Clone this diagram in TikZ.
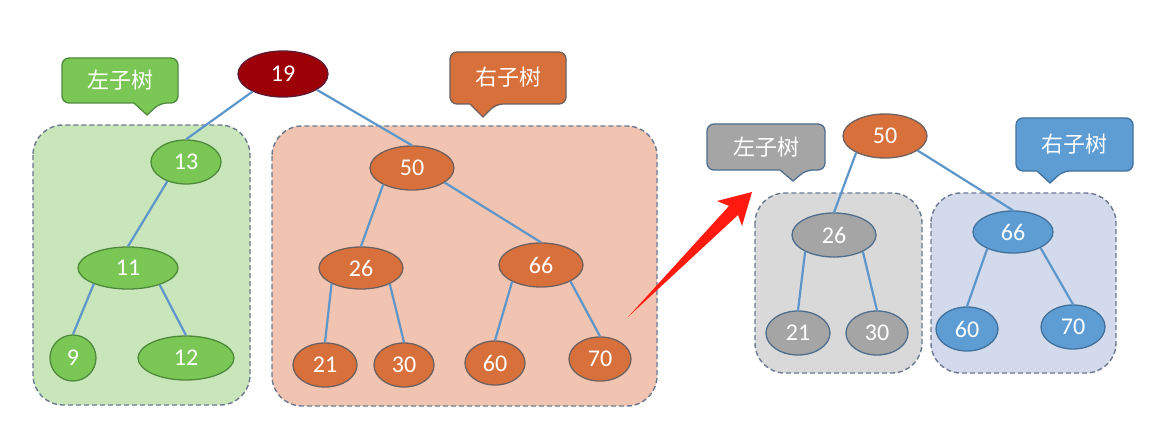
\documentclass[tikz,border=0pt]{standalone}
\usepackage{fontspec}
\setmainfont{Carlito}
\newfontfamily\cjk{Noto Sans CJK SC}
\usetikzlibrary{shapes.geometric}
\definecolor{edgec}{HTML}{5D96CA}
\definecolor{boxline}{HTML}{6A7890}
\definecolor{gfill}{HTML}{7AC755}
\definecolor{gline}{HTML}{4F8A3C}
\definecolor{ofill}{HTML}{D8703B}
\definecolor{oline}{HTML}{6F6060}
\definecolor{rfill}{HTML}{9C0006}
\definecolor{rline}{HTML}{5E1A35}
\definecolor{yfill}{HTML}{A5A5A5}
\definecolor{yline}{HTML}{4F6E8E}
\definecolor{bfill}{HTML}{5E9DD3}
\definecolor{bline}{HTML}{41719C}
\definecolor{gbox}{HTML}{C9E6BA}
\definecolor{obox}{HTML}{F0C4B0}
\definecolor{ybox}{HTML}{D9D9D9}
\definecolor{bbox}{HTML}{D2DAEC}
\definecolor{arrowred}{HTML}{FF1A10}
\tikzset{
  tnode/.style={ellipse, draw, line width=1.3pt, inner sep=0pt, text=white, font=\fontsize{24}{26}\selectfont, minimum height=44pt},
  gn/.style={tnode, fill=gfill, draw=gline},
  on/.style={tnode, fill=ofill, draw=oline},
  rn/.style={tnode, fill=rfill, draw=rline},
  yn/.style={tnode, fill=yfill, draw=yline},
  bn/.style={tnode, fill=bfill, draw=bline},
  tedge/.style={draw=edgec, line width=2.2pt},
  subbox/.style={draw=boxline, line width=1.4pt, dash pattern=on 5pt off 3pt, rounded corners=30pt},
  calltext/.style={text=white, font=\cjk\fontsize{22}{24}\selectfont, inner sep=0pt},
  callbox/.style={line width=1.3pt}
}
\begin{document}
\begin{tikzpicture}[x=1pt,y=-1pt]
\useasboundingbox (0,0) rectangle (1162,425);
% boxes
\draw[subbox, fill=gbox] (33,125) rectangle (250,405);
\draw[subbox, fill=obox] (272,126) rectangle (657,406);
\draw[subbox, fill=ybox] (755,193) rectangle (922,373);
\draw[subbox, fill=bbox] (931,193) rectangle (1116,373);

% callouts
\draw[callbox, fill=gfill, draw=gline, rounded corners=7pt] (62,58) -- (178,58) -- (178,103) -- (160,103) [sharp corners] -- (147,115) -- (134,103) [rounded corners=7pt] -- (62,103) -- cycle;
\node[calltext] (lt1) at (120,80) {左子树};
\draw[callbox, fill=ofill, draw=oline, rounded corners=7pt] (450,52) -- (566,52) -- (566,104) -- (496,104) [sharp corners] -- (483,117) -- (470,104) [rounded corners=7pt] -- (450,104) -- cycle;
\node[calltext] (rt1) at (508,77) {右子树};
\draw[callbox, fill=yfill, draw=yline, rounded corners=7pt] (707,124) -- (825,124) -- (825,170) -- (806,170) [sharp corners] -- (793,181) -- (780,170) [rounded corners=7pt] -- (707,170) -- cycle;
\node[calltext] (lt2) at (766,147) {左子树};
\draw[callbox, fill=bfill, draw=bline, rounded corners=7pt] (1016,118) -- (1133,118) -- (1133,171) -- (1063,171) [sharp corners] -- (1050,183) -- (1037,171) [rounded corners=7pt] -- (1016,171) -- cycle;
\node[calltext] (rt2) at (1074,144) {右子树};

% left tree
\node[rn, minimum width=90pt, minimum height=46pt] (n19) at (283,74) {19};
\node[gn, minimum width=70pt] (n13) at (186,162) {13};
\node[gn, minimum width=100pt, minimum height=42pt] (n11) at (128,268) {11};
\node[gn, minimum width=46pt, minimum height=46pt] (n9) at (73,358) {9};
\node[gn, minimum width=96pt] (n12) at (186,358) {12};
\node[on, minimum width=84pt] (n50) at (412,168) {50};
\node[on, minimum width=84pt, minimum height=42pt] (n26) at (361,268) {26};
\node[on, minimum width=84pt] (n66) at (541,265) {66};
\node[on, minimum width=64pt] (n21) at (325,365) {21};
\node[on, minimum width=60pt] (n30) at (404,365) {30};
\node[on, minimum width=60pt] (n60) at (495,363) {60};
\node[on, minimum width=62pt] (n70) at (600,359) {70};

\draw[tedge] (n19.210) -- (n13.north);
\draw[tedge] (n19.335) -- (n50.north);
\draw[tedge] (n13.226) -- (n11.north);
\draw[tedge] (n11.205) -- (n9.north);
\draw[tedge] (n11.332) -- (n12.north);
\draw[tedge] (n50.210) -- (n26.north);
\draw[tedge] (n50.336) -- (n66.north);
\draw[tedge] (n26.208) -- (n21.north);
\draw[tedge] (n26.331) -- (n30.north);
\draw[tedge] (n66.210) -- (n60.north);
\draw[tedge] (n66.331) -- (n70.north);

% right tree
\node[on, minimum width=84pt] (m50) at (885,136) {50};
\node[yn, minimum width=84pt] (m26) at (834,235) {26};
\node[bn, minimum width=80pt, minimum height=42pt] (m66) at (1013,232) {66};
\node[yn, minimum width=64pt] (m21) at (798,333) {21};
\node[yn, minimum width=62pt] (m30) at (877,333) {30};
\node[bn, minimum width=62pt] (m60) at (967,329) {60};
\node[bn, minimum width=64pt] (m70) at (1073,327) {70};

\draw[tedge] (m50.210) -- (m26.north);
\draw[tedge] (m50.336) -- (m66.north);
\draw[tedge] (m26.210) -- (m21.north);
\draw[tedge] (m26.330) -- (m30.north);
\draw[tedge] (m66.213) -- (m60.north);
\draw[tedge] (m66.330) -- (m70.north);

% red arrow
\coordinate (atail) at (628,317);
\coordinate (atip) at (752,192);
\fill[arrowred] (atail) -- (729,206) -- (717,201) -- (atip) -- (742,226) -- (738,215) -- cycle;
\end{tikzpicture}
\end{document}
